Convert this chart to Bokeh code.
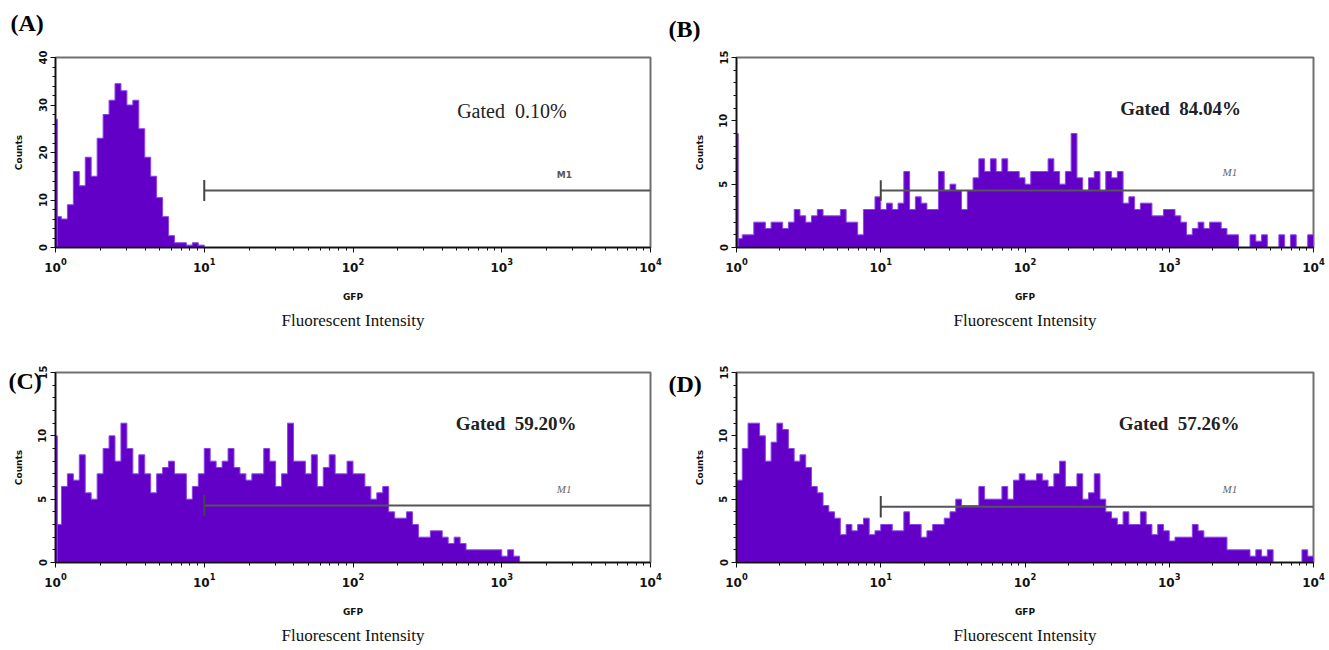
import numpy as np
from bokeh.plotting import figure
from bokeh.layouts import column, row
from bokeh.models import Label, Title, SingleIntervalTicker, FixedTicker, Range1d
from bokeh.embed import file_html
from bokeh.resources import INLINE

# ---------------- data ----------------
panel_tags = ["(A)", "(B)", "(C)", "(D)"]
gated_text = ["Gated\u00a0\u00a00.10%", "Gated\u00a0\u00a084.04%", "Gated\u00a0\u00a059.20%", "Gated\u00a0\u00a057.26%"]
marker_name = "M1"
x_axis_name = "GFP"
y_axis_name = "Counts"
x_caption = "Fluorescent Intensity"
count_max = [40, 15, 15, 15]
count_step = [10, 5, 5, 5]
marker_level = [12, 4.5, 4.5, 4.4]
marker_from = 10
marker_to = 10000
edge_channel = [27, 9, 10, 0]          # first-channel pile-up
x_decade_ticks = [1, 10, 100, 1000, 10000]

# counts per bin (25 bins per decade, 10^0 .. 10^4)
counts_A = [
    6.5, 6, 9, 16, 13, 19, 15, 23, 28, 31, 34.5, 33, 30, 31, 25, 19, 15, 10.5, 6.5, 2.5, 1, 1, 0.5, 1, 0.5,
    0, 0, 0, 0, 0, 0, 0, 0, 0, 0, 0, 0, 0, 0, 0, 0, 0, 0, 0, 0, 0, 0, 0, 0, 0,
    0, 0, 0, 0, 0, 0, 0, 0, 0, 0, 0, 0, 0, 0, 0, 0, 0, 0, 0, 0, 0, 0, 0, 0, 0,
    0, 0, 0, 0, 0, 0, 0, 0, 0, 0, 0, 0, 0, 0, 0, 0, 0, 0, 0, 0, 0, 0, 0, 0, 0,
]
counts_B = [
    0.7, 1, 1, 2, 2, 1.5, 2, 2, 1.5, 2, 3, 2.5, 2, 2.5, 3, 2.5, 2.5, 2.5, 3, 2, 2, 1, 3, 3, 4,
    3, 3.5, 3, 3.5, 6, 3, 4, 3.5, 3, 3, 6, 4.5, 5, 4.5, 3, 4.5, 5.5, 7, 6, 7, 6, 7, 6, 6, 5.5,
    5, 6, 6, 6, 7, 6, 5, 6, 9, 5.5, 4.5, 5.5, 6, 4.5, 6, 5.5, 6, 3.5, 4, 3, 3.5, 3.5, 2.5, 2.5, 3,
    3, 2.5, 2, 1, 1.5, 2, 1.5, 2, 2, 1.5, 1, 1, 0, 0, 1, 0.5, 1, 0, 0, 1, 0, 1, 0, 0, 1,
]
counts_C = [
    3, 6, 7, 6.5, 8.5, 5.5, 5, 7, 9, 10, 8, 11, 9, 7, 8.5, 7, 5.5, 7, 7.5, 8, 7, 7, 5, 6, 7,
    9, 8, 7.5, 8, 9, 7.5, 7, 6.5, 7, 7, 9, 8, 6, 7, 11, 8, 8, 7, 8.5, 6, 7.5, 8.5, 7, 7, 8,
    7, 7, 6, 5, 5.5, 6, 4, 3.5, 3.5, 4, 3, 2, 2, 2.5, 2.5, 2, 1.5, 2, 1.5, 1, 1, 1, 1, 1, 1,
    0.5, 1, 0.5, 0, 0, 0, 0, 0, 0, 0, 0, 0, 0, 0, 0, 0, 0, 0, 0, 0, 0, 0, 0, 0, 0,
]
counts_D = [
    6.5, 9, 11, 11, 10, 8, 9.5, 11, 10.5, 9, 8, 8.5, 7.5, 6, 5.5, 4.5, 4, 3.5, 2.2, 3, 2.5, 3, 3.5, 2.2, 2.5,
    3, 3, 2.5, 2.5, 4, 3, 3, 2, 2.5, 3, 3, 3.5, 4, 5, 4.5, 4.5, 4.5, 6, 5, 5, 5, 6, 5, 6.5, 7,
    6.5, 6.5, 7, 6.5, 6, 7, 8, 6, 6, 7, 5, 5.5, 7, 5, 4, 3.5, 3, 4, 3, 3, 4, 3, 2.2, 3, 2.5,
    1.7, 2, 2, 2, 3, 2.5, 2, 2, 2, 2, 1, 1, 1, 1, 0.5, 1, 0.5, 1, 0, 0, 0, 0, 0, 1, 0.5,
]
all_counts = [counts_A, counts_B, counts_C, counts_D]

# ---------------- layout / style ----------------
# (width, height, left, right, top, bottom)
fig_box = [(668, 340, 55, 18, 57, 93), (657, 340, 68, 12, 57, 92),
           (668, 308, 55, 18, 32, 82), (657, 308, 68, 12, 32, 80)]
tag_offset = [-45, -68, -47, -68]
tag_valign = ["top", "top", "bottom", "bottom"]
tag_standoff = [-96, -84, -43, -48]
gated_pos = [(2.70, 28.8), (2.66, 11.0), (2.69, 11.0), (2.65, 11.0)]
gated_bold = [False, True, True, True]
gated_size = ["20px", "19px", "19px", "19px"]
m1_pos = [(3.37, 15.2), (3.37, 6.0), (3.37, 5.8), (3.37, 5.8)]
tick_half = [2.2, 0.8, 0.85, 0.85]

FILL = "#6300C8"
EDGE = "#8B45E8"
SERIF = "Liberation Serif"
SANS = "DejaVu Sans"

log_edges = np.linspace(0, 4, 101)
edges = 10 ** log_edges
minor = [m * 10 ** d for d in range(4) for m in range(2, 10)]


def panel(k):
    w, h, bl, br, bt, bb = fig_box[k]
    p = figure(width=w, height=h, x_axis_type="log",
               x_range=Range1d(1, 10000), y_range=Range1d(0, count_max[k]),
               output_backend="svg", toolbar_location=None,
               min_border_left=bl, min_border_right=br,
               min_border_top=bt, min_border_bottom=bb)
    p.grid.visible = False
    p.outline_line_color = "#707070"
    p.outline_line_width = 2
    p.background_fill_color = "white"
    p.border_fill_color = "white"

    # panel tag as the figure title, moved to the top-left corner
    p.title.text = panel_tags[k]
    p.title.align = "left"
    p.title.vertical_align = tag_valign[k]
    p.title.offset = tag_offset[k]
    p.title.standoff = tag_standoff[k]
    p.title.text_font = SERIF
    p.title.text_font_size = "24px"
    p.title.text_font_style = "bold"
    p.title.text_color = "black"

    c = np.asarray(all_counts[k], float)
    xs = np.concatenate([[edges[0]], np.repeat(edges, 2)[1:-1], [edges[-1]]])
    ys = np.concatenate([[0], np.repeat(c, 2), [0]])
    p.patch(xs, ys, fill_color=FILL, line_color=EDGE, line_width=1)
    if edge_channel[k] > 0:
        p.quad(left=[1], right=[10 ** 0.012], bottom=[0], top=[edge_channel[k]],
               fill_color=FILL, line_color=EDGE, line_width=1)

    # M1 marker
    lv = marker_level[k]
    p.segment(x0=[marker_from], y0=[lv], x1=[marker_to], y1=[lv],
              line_color="#555555", line_width=2)
    p.segment(x0=[marker_from], y0=[lv - tick_half[k]], x1=[marker_from], y1=[lv + tick_half[k]],
              line_color="#444444", line_width=2)
    mx, my = m1_pos[k]
    if k == 0:
        p.add_layout(Label(x=10 ** mx, y=my, text=marker_name, text_font=SANS, text_font_size="9px",
                           text_font_style="bold", text_color="#555555", text_baseline="middle"))
    else:
        p.add_layout(Label(x=10 ** mx, y=my, text=marker_name, text_font=SERIF, text_font_size="11px",
                           text_font_style="italic", text_color="#666666", text_baseline="middle"))

    gx, gy = gated_pos[k]
    p.add_layout(Label(x=10 ** gx, y=gy, text=gated_text[k], text_font=SERIF, text_font_size=gated_size[k],
                       text_font_style="bold" if gated_bold[k] else "normal",
                       text_color="#222222", text_baseline="middle"))

    # axes
    p.xaxis.ticker = FixedTicker(ticks=x_decade_ticks, minor_ticks=minor)
    p.xaxis.axis_label = x_axis_name
    p.xaxis.axis_label_text_font = SANS
    p.xaxis.axis_label_text_font_size = "9px"
    p.xaxis.axis_label_text_font_style = "bold"
    p.xaxis.axis_label_standoff = 17
    p.xaxis.major_label_text_font = SANS
    p.xaxis.major_label_text_font_size = "12px"
    p.xaxis.major_label_text_font_style = "bold"
    p.xaxis.major_label_standoff = 5

    p.yaxis.ticker = SingleIntervalTicker(interval=count_step[k], num_minor_ticks=5)
    p.yaxis.axis_label = y_axis_name
    p.yaxis.axis_label_text_font = SANS
    p.yaxis.axis_label_text_font_size = "9px"
    p.yaxis.axis_label_text_font_style = "bold"
    p.yaxis.axis_label_standoff = 12
    p.yaxis.major_label_orientation = "vertical"
    p.yaxis.major_label_text_font = SANS
    p.yaxis.major_label_text_font_size = "10px"
    p.yaxis.major_label_text_font_style = "bold"
    p.yaxis.major_label_standoff = 4

    for ax in (p.xaxis, p.yaxis):
        ax.axis_line_color = "#111111"
        ax.axis_line_width = 1.5
        ax.major_tick_line_color = "#111111"
        ax.minor_tick_line_color = "#111111"
        ax.major_tick_in = 0
        ax.major_tick_out = 5
        ax.minor_tick_in = 0
        ax.minor_tick_out = 3
        ax.major_label_text_color = "#111111"
        ax.axis_label_text_color = "#111111"

    p.add_layout(Title(text=x_caption, align="center", text_font=SERIF, text_font_size="17px",
                       text_font_style="normal", text_color="#111111", standoff=8), "below")
    return p


figs = [panel(k) for k in range(4)]
layout = column(row(figs[0], figs[1]), row(figs[2], figs[3]))
open("out.html", "w").write(file_html(layout, INLINE))
